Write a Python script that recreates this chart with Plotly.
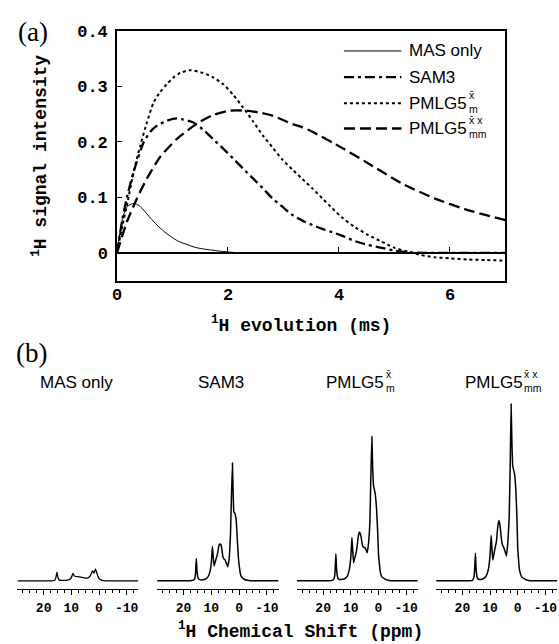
import plotly.graph_objects as go

# ---------------- data: panel (a) -----------------
t_mas = [0, 0.05, 0.1, 0.18, 0.3, 0.4, 0.48, 0.6, 0.72, 0.84, 0.96, 1.1, 1.26, 1.4, 1.55, 1.7, 1.85, 2.0, 2.2]
i_mas = [0, 0.035, 0.062, 0.083, 0.089, 0.085, 0.077, 0.063, 0.05, 0.039, 0.030, 0.021, 0.015, 0.010, 0.007, 0.005, 0.003, 0.0015, 0.0]

t_sam3 = [0, 0.1, 0.18, 0.3, 0.48, 0.6, 0.72, 0.9, 1.08, 1.2, 1.37, 1.55, 1.73, 1.91, 2.09, 2.27, 2.45, 2.63, 2.8,
          2.98, 3.16, 3.34, 3.52, 3.7, 3.88, 4.05, 4.29, 4.53, 4.77, 5.0, 5.24, 5.5, 6.0, 6.5, 7.0]
i_sam3 = [0, 0.062, 0.1, 0.146, 0.199, 0.218, 0.229, 0.238, 0.242, 0.24, 0.235, 0.222, 0.205, 0.188, 0.17, 0.152,
          0.134, 0.116, 0.098, 0.083, 0.068, 0.058, 0.05, 0.043, 0.037, 0.031, 0.021, 0.014, 0.009, 0.004, 0.001,
          0.0, 0.0, 0.0, 0.0]

t_pm = [0, 0.1, 0.18, 0.3, 0.42, 0.54, 0.66, 0.78, 0.9, 1.02, 1.14, 1.32, 1.55, 1.73, 1.91, 2.09, 2.27, 2.45, 2.63,
        2.8, 2.98, 3.16, 3.34, 3.52, 3.7, 3.88, 4.05, 4.29, 4.53, 4.77, 5.0, 5.24, 5.48, 5.72, 6.0, 6.32, 6.65, 7.0]
i_pm = [0, 0.05, 0.086, 0.146, 0.193, 0.235, 0.271, 0.29, 0.304, 0.316, 0.324, 0.329, 0.324, 0.316, 0.304, 0.285,
        0.262, 0.237, 0.211, 0.19, 0.168, 0.15, 0.133, 0.116, 0.098, 0.08, 0.064, 0.046, 0.032, 0.02, 0.009, 0.002,
        -0.004, -0.008, -0.010, -0.012, -0.013, -0.014]

t_pmm = [0, 0.18, 0.36, 0.54, 0.78, 1.08, 1.43, 1.73, 2.03, 2.33, 2.6, 2.8, 3.16, 3.34, 3.52, 3.93, 4.53, 5.13, 5.72, 6.32, 7.0]
i_pmm = [0, 0.056, 0.098, 0.134, 0.173, 0.205, 0.232, 0.248, 0.256, 0.256, 0.252, 0.247, 0.232, 0.226, 0.218, 0.196,
         0.161, 0.125, 0.098, 0.077, 0.059]

x_ticks_a = [0, 2, 4, 6]
y_ticks_a = [0, 0.1, 0.2, 0.3, 0.4]
y_ticktext_a = ["0", "0.1", "0.2", "0.3", "0.4"]

# ---------------- data: panel (b) spectra (ppm, intensity a.u.) -----------------
ppm_mas = [29.5, 17, 16, 15.6, 15.2, 14.8, 14.3, 12, 10.5, 9.9, 9.4, 9.0, 8.5, 7.5, 6.5, 5.5, 4.5, 3.6, 3.0, 2.3,
           1.8, 1.3, 0.8, 0.3, -0.3, -1.2, -2.5, -14.2]
sp_mas = [0, 0, 0.5, 3, 8.7, 3, 0.7, 0.5, 1.5, 4, 7.7, 5, 4.5, 4.2, 3.6, 3, 2.5, 3.5, 6, 10.3,
          7.5, 12, 8, 4, 1.5, 0.4, 0, 0]

ppm_sam3 = [29.5, 18, 16.6, 16.0, 15.7, 15.4, 15.1, 14.7, 14.2, 13, 12, 11.2, 10.5, 10.0, 9.6, 9.3, 9.0, 8.6, 8.2,
            7.8, 7.3, 7.0, 6.5, 6.1, 5.8, 5.4, 5.1, 4.6, 4.1, 3.6, 3.1, 2.8, 2.4, 2.1, 1.9, 1.45, 1.0, 0.6, 0.24,
            -0.2, -0.5, -1.0, -2.0, -3, -4, -14.2]
sp_sam3 = [0, 0, 0.5, 2, 7, 22.7, 8, 2.5, 1.2, 1, 2, 4, 9, 18, 35, 24, 15, 19, 23,
           27, 35, 37.3, 36.5, 30, 24, 22, 21.5, 18, 14.3, 22, 46.7, 80, 119.3, 85, 70, 68, 60, 40, 23,
           12, 6.7, 3.5, 1.3, 0.5, 0, 0]

ppm_pm = [29.5, 18, 16.6, 16.0, 15.7, 15.4, 15.1, 14.7, 14.2, 13, 12, 11.2, 10.5, 10.0, 9.6, 9.3, 9.0, 8.6, 8.2,
          7.8, 7.3, 6.9, 6.5, 6.2, 5.8, 5.4, 4.8, 4.1, 3.6, 3.1, 2.8, 2.4, 2.1, 1.8, 1.2, 0.7, 0.3, 0.0,
          -0.5, -0.7, -1.2, -2.4, -3.5, -4.5, -14.2]
sp_pm = [0, 0, 0.5, 2.5, 9, 27.3, 10, 3, 1.5, 1.5, 2.5, 5, 12, 24, 44, 30, 18.3, 23, 26.7,
         33, 45, 49.3, 47, 43, 36, 34, 33.3, 28.3, 38, 60, 100, 146, 115, 96.7, 88.3, 73, 50, 26.7,
         12, 8.3, 4, 1.7, 0.5, 0, 0]

ppm_pmm = [29.5, 18, 16.4, 15.9, 15.6, 15.3, 15.0, 14.6, 14.1, 13, 12, 11.2, 10.5, 10.0, 9.6, 9.3, 9.0, 8.6, 8.2,
           7.7, 7.2, 6.8, 6.4, 6.0, 5.6, 5.1, 4.6, 4.1, 3.6, 3.1, 2.7, 2.4, 2.1, 1.8, 1.2, 0.7, 0.3, 0.0,
           -0.5, -0.8, -1.4, -2.6, -3.5, -4.5, -14.2]
sp_pmm = [0, 0, 0.5, 3, 10, 28, 10, 3, 1.5, 1.5, 3, 6, 13, 26, 46, 32, 21, 27, 33,
          40, 55, 61, 56, 45, 37, 34, 30, 25, 38, 63, 120, 179, 140, 116, 109, 93, 65, 33,
          14, 9, 4, 1.7, 0.5, 0, 0]

ppm_ticks = [20, 10, 0, -10]
ppm_ticktext = ["20", "10", "0", "-10"]

# ---------------- layout helpers -----------------
W, H = 559, 644
def px(x):
    return x / W
def py(y):
    return 1 - y / H

MONO = "Liberation Mono"
SANS = "Liberation Sans"
SERIF = "Liberation Serif"

fig = go.Figure()

# panel (a) traces
fig.add_trace(go.Scatter(x=t_mas, y=i_mas, mode="lines", name="MAS only",
                         line=dict(color="black", width=1, shape="spline", smoothing=0.6)))
fig.add_trace(go.Scatter(x=t_sam3, y=i_sam3, mode="lines", name="SAM3",
                         line=dict(color="black", width=2.3, dash="10px,4px,3px,4px", shape="spline", smoothing=0.6)))
fig.add_trace(go.Scatter(x=t_pm, y=i_pm, mode="lines", name="PMLG5m",
                         line=dict(color="black", width=2, dash="3px,3px", shape="spline", smoothing=0.6)))
fig.add_trace(go.Scatter(x=t_pmm, y=i_pmm, mode="lines", name="PMLG5mm",
                         line=dict(color="black", width=2.3, dash="11px,5px", shape="spline", smoothing=0.6)))
# helper trace so the zero-line axis is drawn
fig.add_trace(go.Scatter(x=[0], y=[0], xaxis="x2", yaxis="y", mode="markers", marker=dict(opacity=0),
                         showlegend=False, hoverinfo="skip"))

# panel (b) traces
spectra = [(ppm_mas, sp_mas), (ppm_sam3, sp_sam3), (ppm_pm, sp_pm), (ppm_pmm, sp_pmm)]
for k, (xx, yy) in enumerate(spectra):
    ax = str(k + 3)
    fig.add_trace(go.Scatter(x=xx, y=yy, mode="lines", xaxis="x" + ax, yaxis="y" + ax, showlegend=False,
                             line=dict(color="black", width=1.5 if k else 1.3, shape="spline", smoothing=0.3)))

top_dom_y = [py(276), py(23)]
yr = [-0.05, 0.4]
zero_pos = top_dom_y[0] + (0 - yr[0]) / (yr[1] - yr[0]) * (top_dom_y[1] - top_dom_y[0])

layout = dict(
    width=W, height=H, margin=dict(l=0, r=0, t=0, b=0),
    paper_bgcolor="white", plot_bgcolor="white", showlegend=False,
    xaxis=dict(domain=[px(113), px(505)], range=[0, 7], showline=True, mirror=True, linecolor="black",
               linewidth=1.5, ticks="", tickvals=x_ticks_a, showgrid=False, zeroline=False,
               ticklabelstandoff=-3,
               tickfont=dict(family=MONO, size=17, color="black", weight="bold"), anchor="y"),
    yaxis=dict(domain=top_dom_y, range=yr, showline=True, mirror=True, linecolor="black", linewidth=1.5,
               ticks="inside", ticklen=5, tickwidth=1.3, tickcolor="black", tickvals=y_ticks_a,
               ticktext=y_ticktext_a, showgrid=False, zeroline=False, ticklabelstandoff=4,
               tickfont=dict(family=MONO, size=17, color="black", weight="bold"), anchor="x"),
    xaxis2=dict(overlaying="x", range=[0, 7], anchor="free", position=zero_pos, side="bottom",
                domain=[px(113), px(505)], showline=True, linecolor="black", linewidth=1.5,
                ticks="inside", ticklen=5, tickwidth=1.3, tickcolor="black", tickvals=[2, 4, 6],
                showticklabels=False, showgrid=False, zeroline=False),
)

bottom_x = [(12.5, 134.5), (153.5, 276), (294.5, 416.5), (435, 557)]
for k, (a, b) in enumerate(bottom_x):
    ax = str(k + 3)
    layout["xaxis" + ax] = dict(domain=[px(a), px(b)], range=[29.5, -14.2], anchor="y" + ax,
                                showline=True, linecolor="black", linewidth=1.2, ticks="outside", ticklen=5,
                                tickwidth=1, tickcolor="black", tickvals=ppm_ticks, ticktext=ppm_ticktext,
                                minor=dict(tickmode="linear", tick0=0, dtick=2.5, ticks="outside", ticklen=3,
                                           tickwidth=1, tickcolor="black", showgrid=False),
                                showgrid=False, zeroline=False, ticklabelstandoff=1,
                                tickfont=dict(family=MONO, size=13, color="black", weight="bold"))
    layout["yaxis" + ax] = dict(domain=[py(588.3), py(390)], range=[-8.3, 190], anchor="x" + ax,
                                visible=False, showgrid=False, zeroline=False)

fig.update_layout(**layout)

# ---------------- annotations -----------------
ann = []
def text(x, y, s, size, family=SANS, anchor="center", bold=False, angle=0, align="center"):
    ann.append(dict(x=px(x), y=py(y), xref="paper", yref="paper", text=s, showarrow=False,
                    xanchor=anchor, yanchor="middle", textangle=angle, borderpad=0, align=align,
                    font=dict(family=family, size=size, color="black", weight="bold" if bold else "normal")))

text(28, 24, "(a)", 27, SERIF)
text(27, 349, "(b)", 27, SERIF)
text(299, 320, "<sup>1</sup>H evolution (ms)", 18, MONO, bold=True)
text(35, 150, "<sup>1</sup>H signal intensity", 18, MONO, bold=True, angle=-90)
text(298, 630, "<sup>1</sup>H Chemical Shift (ppm)", 18, MONO, bold=True)

# legend (drawn manually so the stacked sub/superscripts can be reproduced)
rows = [43.5, 70, 96.5, 122]
dashes = ["solid", "10px,4px,3px,4px", "3px,3px", "11px,5px"]
widths = [1, 2.3, 2, 2.3]
shapes = []
for r, d, w in zip(rows, dashes, widths):
    shapes.append(dict(type="line", xref="paper", yref="paper", x0=px(342), x1=px(400), y0=py(r), y1=py(r),
                       line=dict(color="black", width=w, dash=d)))
XS = "x\u0304"
text(407, rows[0], "MAS only", 17, anchor="left")
text(407, rows[1], "SAM3", 17, anchor="left")
text(407, rows[2], "PMLG5", 17, anchor="left")
text(407, rows[3], "PMLG5", 17, anchor="left")
text(467, rows[2] - 1, XS + "<br>m", 10.5, anchor="left", align="left")
text(467, rows[3] - 1, XS + " x<br>mm", 10.5, anchor="left", align="left")

# panel titles (b)
TY = 379
text(72, TY, "MAS only", 17)
text(218, TY, "SAM3", 17)
text(323, TY, "PMLG5", 17, anchor="left")
text(383, TY - 1, XS + "<br>m", 10.5, anchor="left", align="left")
text(463, TY, "PMLG5", 17, anchor="left")
text(523, TY - 1, XS + " x<br>mm", 10.5, anchor="left", align="left")

fig.update_layout(annotations=ann, shapes=shapes)
fig.write_html("out.html", config={"displayModeBar": False},
               post_script="document.body.style.margin='0';document.body.style.overflow='hidden';")
